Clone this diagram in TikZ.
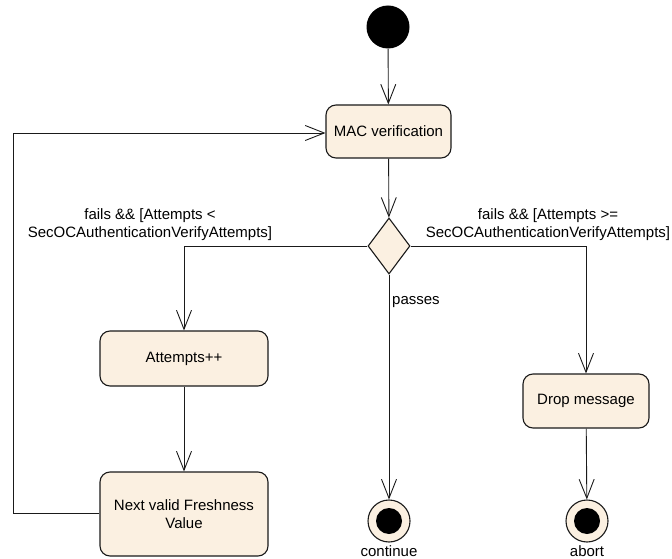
\documentclass[tikz,border=0pt]{standalone}
\usepackage{fontspec}
\setmainfont{Liberation Sans}
\usepackage{xcolor}
\usepackage{tikz}
\usetikzlibrary{shapes.geometric, arrows.meta, positioning}
\definecolor{actfill}{HTML}{FBF0E1}
\definecolor{lineblack}{HTML}{1A1A1A}

\begin{document}
\begin{tikzpicture}[x=1pt, y=-1pt]
    % Styles
    \tikzstyle{action} = [rectangle, rounded corners=10pt, minimum width=125pt, minimum height=53pt, text centered, align=center, draw=lineblack, line width=1.1pt, fill=actfill, font=\fontsize{15}{18}\selectfont]
    \tikzstyle{decision} = [diamond, minimum width=42pt, minimum height=56pt, inner sep=0pt, draw=lineblack, line width=1.1pt, fill=actfill]
    \tikzstyle{initial} = [circle, minimum size=43pt, inner sep=0pt, fill=black]
    \tikzstyle{final} = [circle, minimum size=42pt, inner sep=0pt, draw=lineblack, line width=1.1pt, fill=actfill]
    \tikzstyle{dot} = [circle, minimum size=26pt, inner sep=0pt, fill=black]
    \tikzstyle{guard} = [font=\fontsize{15}{18}\selectfont, align=center, inner sep=0pt]
    \tikzstyle{arrow} = [line width=0.9pt, draw=lineblack, -{Straight Barb[length=19pt, width=15pt, line width=0.9pt]}]
    \tikzstyle{plain} = [line width=0.9pt, draw=lineblack]

    \useasboundingbox (0,0) rectangle (672,559);

    % Nodes - using absolute positioning
    \node[initial] (start) at (388,27) {};
    \node[action] (mac) at (388.5,131.5) {MAC verification};
    \node[decision] (check) at (389,246) {};
    \node[action, minimum width=168pt, minimum height=55pt] (attempts) at (184,358.5) {Attempts++};
    \node[action, minimum width=168pt, minimum height=84pt] (fresh) at (184,514) {Next valid Freshness\\Value};
    \node[action, minimum width=126pt, minimum height=54pt] (drop) at (586,401) {Drop message};
    \node[final] (cont) at (389,521) {};
    \node[dot] at (cont) {};
    \node[final] (abort) at (587,521) {};
    \node[dot] at (abort) {};

    % Labels
    \node[guard] (failless) at (150,225) {fails \&\& [Attempts <\\SecOCAuthenticationVerifyAttempts]};
    \node[guard] (failmore) at (548,225) {fails \&\& [Attempts >=\\SecOCAuthenticationVerifyAttempts]};
    \node[guard, anchor=west] (passes) at (392,302) {passes};
    \node[guard] (contlbl) at (389,551) {continue};
    \node[guard] (abortlbl) at (587,551) {abort};

    % Arrows
    \draw[arrow] (start) -- (mac);
    \draw[arrow] (mac) -- (check);
    \draw[arrow] (check.west) -| (attempts.north);
    \draw[arrow] (check.east) -| (drop.north);
    \draw[arrow] (check.south) -- (cont);
    \draw[arrow] (attempts) -- (fresh);
    \draw[arrow] (drop) -- (abort);

    % Loop back
    \coordinate (loopbot) at (13,513);
    \coordinate (looptop) at (13,133);
    \draw[plain] (fresh.west |- loopbot) -- (loopbot) -- (looptop);
    \draw[arrow] (looptop) -- (mac.west |- looptop);
\end{tikzpicture}
\end{document}
